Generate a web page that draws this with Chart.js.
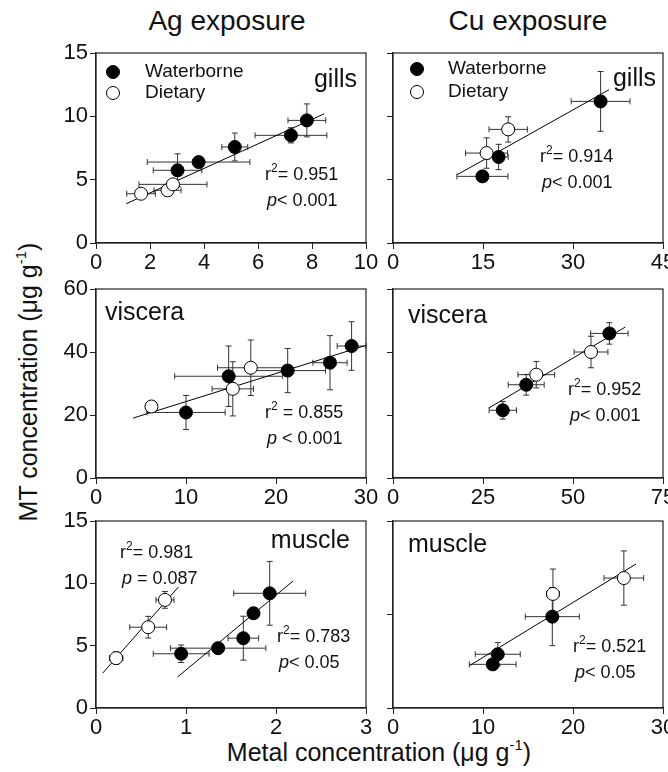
<!DOCTYPE html>
<html><head><meta charset="utf-8">
<script src="https://cdn.jsdelivr.net/npm/chart.js@4.4.0/dist/chart.umd.min.js"></script>
<style>
html,body{margin:0;padding:0;background:#fff;overflow:hidden;width:668px;height:772px;}
body{position:relative;font-family:"Liberation Sans",Arial,sans-serif;color:#111;}
canvas{position:absolute;}
.t{position:absolute;white-space:nowrap;line-height:1;}
.t sup{font-size:0.6em;position:relative;top:-0.15em;}
</style></head><body>
<div class="t" style="left:227px;top:7px;font-size:28px;transform:translateX(-50%);">Ag exposure</div>
<div class="t" style="left:528px;top:7px;font-size:28px;transform:translateX(-50%);">Cu exposure</div>
<div class="t" style="left:28px;top:382px;font-size:25px;transform:translate(-50%,-50%) rotate(-90deg);">MT concentration (μg g<sup>-1</sup>)</div>
<div class="t" style="left:379px;top:739px;font-size:25px;transform:translateX(-50%);">Metal concentration (μg g<sup>-1</sup>)</div>
<script>
// ---------- DATA ----------
// Ag exposure, gills
const agGillsWbX = [3.02, 3.80, 5.14, 7.22, 7.81];
const agGillsWbY = [5.74, 6.39, 7.58, 8.50, 9.68];
const agGillsWbXErr = [0.90, 1.90, 0.48, 1.33, 0.70];
const agGillsWbYErr = [1.30, 0.30, 1.10, 0.60, 1.30];
const agGillsDiX = [1.67, 2.65, 2.85];
const agGillsDiY = [3.89, 4.16, 4.63];
const agGillsDiXErr = [0.53, 0.50, 1.26];
const agGillsDiYErr = [0.20, 0.45, 0.30];
const agGillsFitX = [1.12, 8.45];
const agGillsFitY = [3.10, 10.20];
// Cu exposure, gills
const cuGillsWbX = [14.9, 17.6, 34.6];
const cuGillsWbY = [5.26, 6.79, 11.18];
const cuGillsWbXErr = [4.25, 1.6, 4.9];
const cuGillsWbYErr = [0.3, 1.0, 2.36];
const cuGillsDiX = [15.6, 19.2];
const cuGillsDiY = [7.1, 8.97];
const cuGillsDiXErr = [3.5, 3.2];
const cuGillsDiYErr = [1.2, 1.0];
const cuGillsFitX = [10.7, 36.0];
const cuGillsFitY = [5.39, 12.1];
// Ag exposure, viscera
const agVisWbX = [10.0, 14.74, 21.3, 26.0, 28.4];
const agVisWbY = [20.8, 32.3, 34.1, 36.6, 41.9];
const agVisWbXErr = [4.35, 6.0, 4.2, 1.9, 1.6];
const agVisWbYErr = [5.4, 9.6, 7.0, 8.6, 7.7];
const agVisDiX = [6.16, 15.2, 17.2];
const agVisDiY = [22.7, 28.3, 35.0];
const agVisDiXErr = [0.5, 2.3, 3.7];
const agVisDiYErr = [0.5, 8.6, 8.8];
const agVisFitX = [4.1, 30.0];
const agVisFitY = [19.0, 42.1];
// Cu exposure, viscera
const cuVisWbX = [30.5, 37.0, 60.1];
const cuVisWbY = [21.5, 29.6, 45.9];
const cuVisWbXErr = [3.8, 5.0, 5.2];
const cuVisWbYErr = [2.8, 3.3, 3.4];
const cuVisDiX = [39.8, 55.0];
const cuVisDiY = [32.8, 40.0];
const cuVisDiXErr = [5.1, 4.7];
const cuVisDiYErr = [4.2, 5.0];
const cuVisFitX = [26.6, 64.5];
const cuVisFitY = [22.2, 47.9];
// Ag exposure, muscle
const agMusWbX = [0.946, 1.357, 1.637, 1.75, 1.93];
const agMusWbY = [4.35, 4.8, 5.6, 7.6, 9.2];
const agMusWbXErr = [0.31, 0.53, 0.17, 0.0, 0.40];
const agMusWbYErr = [0.7, 0.2, 1.76, 0.2, 2.56];
const agMusDiX = [0.224, 0.58, 0.766];
const agMusDiY = [4.0, 6.48, 8.67];
const agMusDiXErr = [0.075, 0.205, 0.10];
const agMusDiYErr = [0.5, 0.87, 0.67];
const agMusDiFitX = [0.075, 0.916];
const agMusDiFitY = [2.8, 9.71];
const agMusWbFitX = [0.905, 2.19];
const agMusWbFitY = [2.48, 10.19];
// Cu exposure, muscle
const cuMusWbX = [11.08, 11.64, 17.7];
const cuMusWbY = [4.67, 5.75, 9.77];
const cuMusWbXErr = [2.6, 2.5, 3.0];
const cuMusWbYErr = [0.3, 1.25, 3.1];
const cuMusDiX = [17.77, 25.65];
const cuMusDiY = [12.2, 13.9];
const cuMusDiXErr = [0.7, 2.2];
const cuMusDiYErr = [2.66, 2.9];
const cuMusFitX = [8.55, 27.0];
const cuMusFitY = [4.56, 15.4];

const legendLabels = ['Waterborne', 'Dietary'];

// ---------- DRAWING ----------
const FONT = '"Liberation Sans", Arial, sans-serif';
const INK = '#111';
function pts(xs, ys){ return xs.map((x,i)=>({x:x, y:ys[i]})); }

function pointSet(label, xs, ys, xe, ye, filled){
  return {type:'scatter', label:label, data:pts(xs,ys), xErr:xe, yErr:ye,
    pointRadius:6.5, pointHoverRadius:6.5, borderWidth:1,
    backgroundColor: filled ? '#000' : '#fff', borderColor:'#000', order: filled ? 1 : 2};
}
function fitSet(xs, ys){
  return {type:'line', data:pts(xs,ys), borderColor:'#000', borderWidth:1,
    pointRadius:0, pointHoverRadius:0, fill:false, tension:0, order:10};
}

const errorBars = {
  id:'errorBars',
  beforeDatasetsDraw(chart){
    const ctx = chart.ctx, xs = chart.scales.x, ys = chart.scales.y;
    ctx.save();
    ctx.strokeStyle = '#333'; ctx.lineWidth = 1;
    chart.data.datasets.forEach(ds=>{
      if(!ds.xErr) return;
      ds.data.forEach((p,i)=>{
        const px = xs.getPixelForValue(p.x), py = ys.getPixelForValue(p.y);
        const ex = ds.xErr[i], ey = ds.yErr[i];
        ctx.beginPath();
        if(ex>0){
          const a = xs.getPixelForValue(p.x-ex), b = xs.getPixelForValue(p.x+ex);
          ctx.moveTo(a,py); ctx.lineTo(b,py);
          ctx.moveTo(a,py-3); ctx.lineTo(a,py+3);
          ctx.moveTo(b,py-3); ctx.lineTo(b,py+3);
        }
        if(ey>0){
          const a = ys.getPixelForValue(p.y-ey), b = ys.getPixelForValue(p.y+ey);
          ctx.moveTo(px,a); ctx.lineTo(px,b);
          ctx.moveTo(px-3,a); ctx.lineTo(px+3,a);
          ctx.moveTo(px-3,b); ctx.lineTo(px+3,b);
        }
        ctx.stroke();
      });
    });
    ctx.restore();
  }
};

function drawRich(ctx, x, y, parts, size){
  let cx = x;
  ctx.textBaseline = 'alphabetic'; ctx.textAlign = 'left';
  for(const p of parts){
    const fs = p.sup ? Math.round(size*0.68) : size;
    ctx.font = (p.it ? 'italic ' : '') + fs + 'px ' + FONT;
    ctx.fillText(p.t, cx, y + (p.sup ? -size*0.42 : 0));
    cx += ctx.measureText(p.t).width;
  }
}

const frameAndText = {
  id:'frameAndText',
  afterDraw(chart){
    const ctx = chart.ctx, a = chart.chartArea, o = chart.options.plugins.frameAndText;
    ctx.save();
    ctx.strokeStyle = '#222'; ctx.lineWidth = 1.2;
    ctx.strokeRect(a.left, a.top, a.right-a.left, a.bottom-a.top);
    ctx.fillStyle = INK;
    if(o.legend){
      const lg = o.legend;
      [true,false].forEach((filled,k)=>{
        const cy = a.top + lg.y + k*lg.dy;
        ctx.beginPath(); ctx.arc(a.left+lg.x, cy, 6.5, 0, Math.PI*2);
        ctx.fillStyle = filled ? '#000' : '#fff'; ctx.fill();
        ctx.strokeStyle = '#000'; ctx.lineWidth = 1; ctx.stroke();
        ctx.fillStyle = INK; ctx.font = '19px ' + FONT;
        ctx.textAlign = 'left'; ctx.textBaseline = 'middle';
        ctx.fillText(legendLabels[k], a.left+lg.tx, cy);
      });
    }
    const n = o.name;
    ctx.font = '25px ' + FONT; ctx.textBaseline = 'alphabetic';
    ctx.textAlign = n.align; ctx.fillStyle = INK;
    ctx.fillText(n.text, a.left+n.x, a.top+n.y);
    o.stats.forEach(s=>{
      drawRich(ctx, a.left+s.x, a.top+s.y, [{t:'r'},{t:'2',sup:true},{t:s.r}], 18);
      drawRich(ctx, a.left+s.x+2, a.top+s.y+26, [{t:'p',it:true},{t:s.p}], 18);
    });
    ctx.restore();
  }
};

function makePanel(cfg){
  const padL = cfg.leftCol ? 60 : 20, padR = 24, padT = 12, padB = 40, W = 270, H = cfg.H;
  const cv = document.createElement('canvas');
  cv.width = W+padL+padR; cv.height = H+padT+padB;
  cv.style.left = (cfg.L-padL)+'px'; cv.style.top = (cfg.T-padT)+'px';
  cv.style.width = cv.width+'px'; cv.style.height = cv.height+'px';
  document.body.appendChild(cv);
  const axis = (min,max,step,showLabels,isX)=>({
    type:'linear', min:min, max:max,
    ticks:{stepSize:step, autoSkip:false, maxRotation:0, color:INK, padding:isX?1:2,
      font:{size:22, family:FONT}, callback:(v)=> showLabels ? String(v) : ''},
    grid:{drawOnChartArea:false, drawTicks:true, tickLength:6, color:'#222', lineWidth:1},
    border:{display:true, color:'#222', width:1.2},
    afterFit(s){ if(isX){ s.height = padB; } else { s.width = padL; }
      s.paddingLeft = 0; s.paddingRight = 0; s.paddingTop = 0; s.paddingBottom = 0; }
  });
  new Chart(cv, {
    type:'scatter',
    data:{datasets:cfg.datasets},
    options:{
      responsive:false, animation:false, devicePixelRatio:1, events:[],
      layout:{padding:{left:0, right:padR, top:padT, bottom:0}},
      scales:{ x: axis(cfg.x[0],cfg.x[1],cfg.x[2],true,true),
               y: axis(cfg.y[0],cfg.y[1],cfg.y[2],cfg.leftCol,false) },
      plugins:{legend:{display:false}, tooltip:{enabled:false},
        frameAndText:{legend:cfg.legend, name:cfg.name, stats:cfg.stats}}
    },
    plugins:[errorBars, frameAndText]
  });
}

makePanel({L:96, T:53, H:190, leftCol:true, x:[0,10,2], y:[0,15,5],
  datasets:[pointSet('Waterborne',agGillsWbX,agGillsWbY,agGillsWbXErr,agGillsWbYErr,true),
            pointSet('Dietary',agGillsDiX,agGillsDiY,agGillsDiXErr,agGillsDiYErr,false),
            fitSet(agGillsFitX,agGillsFitY)],
  legend:{x:17, y:19, dy:21, tx:49},
  name:{text:'gills', x:261, y:34, align:'right'},
  stats:[{x:169, y:127, r:'= 0.951', p:'< 0.001'}]});

makePanel({L:393, T:53, H:190, leftCol:false, x:[0,45,15], y:[0,15,5],
  datasets:[pointSet('Waterborne',cuGillsWbX,cuGillsWbY,cuGillsWbXErr,cuGillsWbYErr,true),
            pointSet('Dietary',cuGillsDiX,cuGillsDiY,cuGillsDiXErr,cuGillsDiYErr,false),
            fitSet(cuGillsFitX,cuGillsFitY)],
  legend:{x:24, y:16, dy:23, tx:55},
  name:{text:'gills', x:263, y:33, align:'right'},
  stats:[{x:147, y:109, r:'= 0.914', p:'< 0.001'}]});

makePanel({L:96, T:289, H:189, leftCol:true, x:[0,30,10], y:[0,60,20],
  datasets:[pointSet('Waterborne',agVisWbX,agVisWbY,agVisWbXErr,agVisWbYErr,true),
            pointSet('Dietary',agVisDiX,agVisDiY,agVisDiXErr,agVisDiYErr,false),
            fitSet(agVisFitX,agVisFitY)],
  name:{text:'viscera', x:9, y:31, align:'left'},
  stats:[{x:169, y:129, r:' = 0.855', p:' < 0.001'}]});

makePanel({L:393, T:289, H:189, leftCol:false, x:[0,75,25], y:[0,60,20],
  datasets:[pointSet('Waterborne',cuVisWbX,cuVisWbY,cuVisWbXErr,cuVisWbYErr,true),
            pointSet('Dietary',cuVisDiX,cuVisDiY,cuVisDiXErr,cuVisDiYErr,false),
            fitSet(cuVisFitX,cuVisFitY)],
  name:{text:'viscera', x:15, y:34, align:'left'},
  stats:[{x:175, y:106, r:'= 0.952', p:'< 0.001'}]});

makePanel({L:96, T:521, H:187, leftCol:true, x:[0,3,1], y:[0,15,5],
  datasets:[pointSet('Waterborne',agMusWbX,agMusWbY,agMusWbXErr,agMusWbYErr,true),
            pointSet('Dietary',agMusDiX,agMusDiY,agMusDiXErr,agMusDiYErr,false),
            fitSet(agMusDiFitX,agMusDiFitY), fitSet(agMusWbFitX,agMusWbFitY)],
  name:{text:'muscle', x:254, y:27, align:'right'},
  stats:[{x:24, y:37, r:'= 0.981', p:' = 0.087'},{x:181, y:121, r:'= 0.783', p:'< 0.05'}]});

makePanel({L:393, T:521, H:187, leftCol:false, x:[0,30,10], y:[0,20,10],
  datasets:[pointSet('Waterborne',cuMusWbX,cuMusWbY,cuMusWbXErr,cuMusWbYErr,true),
            pointSet('Dietary',cuMusDiX,cuMusDiY,cuMusDiXErr,cuMusDiYErr,false),
            fitSet(cuMusFitX,cuMusFitY)],
  name:{text:'muscle', x:15, y:31, align:'left'},
  stats:[{x:180, y:131, r:'= 0.521', p:'< 0.05'}]});
</script>
</body></html>
